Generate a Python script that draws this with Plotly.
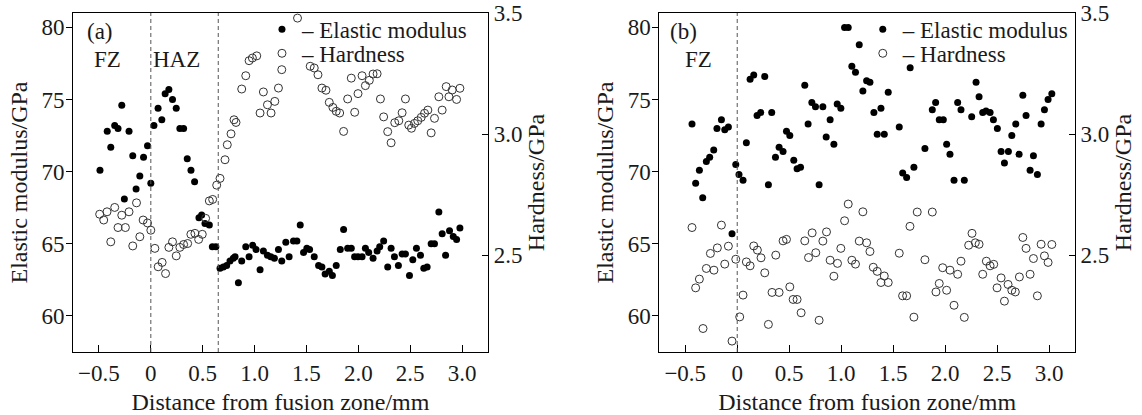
import plotly.graph_objects as go

# (a) elastic modulus, filled dots
a_mod_x = [-0.49, -0.42, -0.386, -0.348, -0.316, -0.28, -0.255, -0.21, -0.174, -0.142,
           -0.106, -0.07, -0.032, 0.0, 0.03, 0.07, 0.106, 0.138, 0.174, 0.209,
           0.245, 0.28, 0.316, 0.351, 0.387, 0.422, 0.464, 0.49, 0.522, 0.564,
           0.593, 0.627, 0.667, 0.699, 0.731, 0.763, 0.795, 0.812, 0.844, 0.876,
           0.915, 0.947, 0.982, 1.014, 1.053, 1.085, 1.124, 1.156, 1.191, 1.23,
           1.262, 1.301, 1.333, 1.375, 1.408, 1.44, 1.472, 1.504, 1.53, 1.575,
           1.617, 1.649, 1.68, 1.72, 1.75, 1.787, 1.826, 1.858, 1.897, 1.932,
           1.964, 1.997, 2.036, 2.068, 2.1, 2.142, 2.181, 2.206, 2.244, 2.283,
           2.316, 2.348, 2.386, 2.422, 2.454, 2.493, 2.525, 2.56, 2.599, 2.631,
           2.663, 2.702, 2.734, 2.776, 2.808, 2.841, 2.879, 2.915, 2.947, 2.979]
a_mod_y = [70.1, 72.8, 71.7, 73.2, 73.0, 74.6, 68.1, 72.8, 71.1, 68.8,
           69.7, 71.0, 71.8, 69.2, 73.2, 74.4, 73.6, 75.4, 75.7, 75.0,
           74.4, 73.0, 73.0, 70.9, 70.1, 69.3, 66.8, 67.0, 66.4, 66.3,
           64.8, 64.8, 63.3, 63.4, 63.5, 63.8, 64.0, 64.1, 62.3, 63.8,
           64.8, 64.1, 64.9, 64.6, 63.2, 64.5, 64.2, 64.1, 64.0, 64.6,
           63.8, 65.1, 64.1, 65.2, 65.2, 66.3, 64.4, 64.7, 64.6, 64.1,
           63.5, 63.4, 62.9, 63.1, 62.8, 63.5, 64.6, 66.0, 64.7, 64.7,
           64.1, 64.1, 64.1, 64.7, 64.4, 64.0, 64.5, 64.8, 65.2, 63.4,
           64.7, 64.1, 63.5, 64.3, 64.3, 62.8, 63.9, 64.7, 64.2, 63.3,
           63.4, 65.0, 65.0, 67.2, 65.7, 64.2, 65.9, 65.5, 65.3, 66.1]

# (a) hardness, open circles
a_hard_x = [-0.493, -0.454, -0.422, -0.386, -0.348, -0.316, -0.28, -0.245, -0.21, -0.174,
            -0.138, -0.106, -0.074, -0.032, 0.0, 0.039, 0.071, 0.109, 0.142, 0.174,
            0.209, 0.245, 0.28, 0.316, 0.355, 0.386, 0.425, 0.461, 0.496, 0.528,
            0.564, 0.596, 0.635, 0.667, 0.715, 0.737, 0.773, 0.802, 0.821, 0.876,
            0.915, 0.947, 0.979, 1.021, 1.053, 1.085, 1.124, 1.159, 1.195, 1.23,
            1.262, 1.414, 1.536, 1.575, 1.611, 1.649, 1.688, 1.72, 1.755, 1.787,
            1.82, 1.858, 1.897, 1.932, 1.965, 1.997, 2.036, 2.068, 2.106, 2.142,
            2.181, 2.213, 2.244, 2.283, 2.316, 2.351, 2.39, 2.422, 2.454, 2.486,
            2.512, 2.541, 2.573, 2.606, 2.638, 2.67, 2.702, 2.734, 2.776, 2.808,
            2.847, 2.873, 2.905, 2.947, 2.979]
a_hard_y = [2.669, 2.645, 2.679, 2.555, 2.697, 2.614, 2.665, 2.614, 2.679, 2.538,
            2.716, 2.576, 2.645, 2.633, 2.603, 2.528, 2.452, 2.47, 2.424, 2.532,
            2.555, 2.497, 2.532, 2.544, 2.548, 2.586, 2.59, 2.565, 2.586, 2.652,
            2.724, 2.73, 2.789, 2.817, 2.894, 2.956, 3.001, 3.059, 3.048, 3.186,
            3.241, 3.303, 3.314, 3.323, 3.087, 3.174, 3.121, 3.087, 3.135, 3.19,
            3.266, 3.479, 3.28, 3.273, 3.245, 3.19, 3.181, 3.131, 3.11, 3.094,
            3.087, 3.011, 3.145, 3.231, 3.09, 3.167, 3.241, 3.2, 3.222, 3.248,
            3.249, 3.145, 3.071, 3.01, 2.964, 3.047, 3.055, 3.088, 3.145, 3.037,
            3.024, 3.044, 3.055, 3.069, 3.086, 3.099, 3.005, 3.065, 3.154, 3.099,
            3.196, 3.154, 3.182, 3.143, 3.189]

# (b) elastic modulus
b_mod_x = [-0.435, -0.4, -0.364, -0.332, -0.297, -0.265, -0.226, -0.195, -0.152, -0.12,
           -0.085, -0.05, -0.014, 0.017, 0.056, 0.088, 0.124, 0.159, 0.191, 0.226,
           0.265, 0.3, 0.332, 0.368, 0.403, 0.441, 0.474, 0.506, 0.544, 0.576,
           0.609, 0.65, 0.682, 0.718, 0.753, 0.788, 0.824, 0.856, 0.894, 0.93,
           0.962, 0.997, 1.033, 1.068, 1.103, 1.138, 1.174, 1.209, 1.245, 1.277,
           1.315, 1.347, 1.383, 1.415, 1.453, 1.559, 1.592, 1.63, 1.664, 1.7,
           1.806, 1.877, 1.909, 1.944, 1.983, 2.015, 2.047, 2.086, 2.121, 2.153,
           2.185, 2.256, 2.298, 2.327, 2.362, 2.394, 2.433, 2.465, 2.503, 2.539,
           2.571, 2.609, 2.642, 2.68, 2.712, 2.748, 2.779, 2.818, 2.85, 2.888,
           2.924, 2.956, 2.991, 3.027]
b_mod_y = [73.3, 69.2, 70.1, 68.2, 70.7, 71.0, 71.5, 73.0, 73.6, 72.9,
           73.1, 65.7, 70.5, 69.8, 69.4, 72.0, 76.4, 76.7, 73.9, 74.1,
           76.6, 69.1, 74.1, 71.0, 71.7, 71.4, 72.8, 72.5, 70.8, 70.2,
           70.3, 76.0, 73.3, 74.8, 74.5, 69.1, 74.5, 72.4, 73.6, 71.9,
           74.7, 74.4, 80.0, 80.0, 77.3, 76.9, 78.8, 75.6, 76.3, 76.2,
           74.1, 72.6, 74.4, 72.6, 75.5, 73.1, 69.9, 69.6, 77.2, 70.3,
           71.6, 74.3, 74.8, 73.6, 73.6, 71.9, 71.2, 69.4, 74.8, 74.3,
           69.4, 73.8, 76.2, 75.2, 74.1, 74.2, 74.1, 73.6, 73.0, 71.4,
           70.6, 71.4, 72.5, 73.3, 71.2, 75.3, 73.9, 70.1, 71.1, 69.8,
           73.3, 74.3, 75.0, 75.4]

# (b) hardness
b_hard_x = [-0.435, -0.4, -0.364, -0.329, -0.297, -0.258, -0.224, -0.191, -0.152, -0.12,
            -0.085, -0.05, -0.014, 0.024, 0.056, 0.088, 0.124, 0.159, 0.194, 0.229,
            0.265, 0.3, 0.335, 0.371, 0.403, 0.441, 0.474, 0.506, 0.538, 0.576,
            0.615, 0.65, 0.686, 0.721, 0.756, 0.788, 0.824, 0.859, 0.894, 0.93,
            0.965, 0.997, 1.033, 1.068, 1.103, 1.138, 1.174, 1.209, 1.245, 1.277,
            1.309, 1.347, 1.383, 1.415, 1.453, 1.559, 1.591, 1.63, 1.662, 1.7,
            1.732, 1.806, 1.877, 1.912, 1.944, 1.977, 2.015, 2.047, 2.086, 2.121,
            2.153, 2.185, 2.227, 2.259, 2.291, 2.327, 2.362, 2.397, 2.433, 2.468,
            2.5, 2.539, 2.571, 2.606, 2.642, 2.676, 2.715, 2.748, 2.779, 2.818,
            2.85, 2.888, 2.924, 2.956, 2.991, 3.027]
b_hard_y = [2.614, 2.365, 2.401, 2.197, 2.445, 2.507, 2.438, 2.53, 2.624, 2.463,
            2.537, 2.145, 2.483, 2.245, 2.335, 2.472, 2.456, 2.538, 2.521, 2.489,
            2.427, 2.214, 2.346, 2.5, 2.346, 2.559, 2.565, 2.369, 2.317, 2.317,
            2.262, 2.559, 2.49, 2.592, 2.51, 2.231, 2.558, 2.596, 2.479, 2.413,
            2.466, 2.528, 2.642, 2.711, 2.479, 2.463, 2.558, 2.679, 2.551, 2.515,
            2.45, 2.433, 2.387, 2.414, 2.387, 2.508, 2.332, 2.332, 2.619, 2.244,
            2.678, 2.481, 2.678, 2.348, 2.383, 2.448, 2.355, 2.438, 2.293, 2.421,
            2.475, 2.243, 2.541, 2.59, 2.551, 2.545, 2.421, 2.475, 2.456, 2.462,
            2.365, 2.406, 2.31, 2.379, 2.355, 2.348, 2.41, 2.573, 2.528, 2.421,
            2.486, 2.332, 2.545, 2.497, 2.47, 2.544]

x_ticks = [-0.5, 0, 0.5, 1.0, 1.5, 2.0, 2.5, 3.0]
x_labels = ["\u22120.5", "0", "0.5", "1.0", "1.5", "2.0", "2.5", "3.0"]
mod_ticks = [60, 65, 70, 75, 80]
hard_ticks = [2.5, 3.0, 3.5]
hard_labels = ["2.5", "3.0", "3.5"]

FONT = "Liberation Serif"
INK = "#1a1a1a"

filled = dict(symbol="circle", size=7, color="black")
hollow = dict(symbol="circle-open", size=8, color="#333", line=dict(width=1))

fig = go.Figure()
fig.add_trace(go.Scatter(x=a_mod_x, y=a_mod_y, mode="markers", name="\u2013 Elastic modulus",
                         marker=filled, xaxis="x", yaxis="y", legend="legend"))
fig.add_trace(go.Scatter(x=a_hard_x, y=a_hard_y, mode="markers", name="\u2013 Hardness",
                         marker=hollow, xaxis="x", yaxis="y2", legend="legend2"))
fig.add_trace(go.Scatter(x=b_mod_x, y=b_mod_y, mode="markers", name="\u2013 Elastic modulus",
                         marker=filled, xaxis="x2", yaxis="y3", legend="legend3"))
fig.add_trace(go.Scatter(x=b_hard_x, y=b_hard_y, mode="markers", name="\u2013 Hardness",
                         marker=hollow, xaxis="x2", yaxis="y4", legend="legend4"))


def xax(domain, anchor):
    return dict(domain=domain, anchor=anchor, range=[-0.75, 3.25],
                tickvals=x_ticks, ticktext=x_labels, ticks="inside", ticklen=7,
                tickcolor="black", showline=True, mirror=True, linecolor="black",
                linewidth=1, showgrid=False, zeroline=False,
                tickfont=dict(size=23), ticklabelstandoff=0,
                title=dict(text="Distance from fusion zone/mm", font=dict(size=24), standoff=8))


def yleft(anchor):
    return dict(anchor=anchor, range=[57.5, 81], tickvals=mod_ticks, ticks="outside",
                ticklen=6, tickcolor="black", showline=True, linecolor="black",
                showgrid=False, zeroline=False, tickfont=dict(size=23), ticklabelstandoff=-3,
                title=dict(text="Elastic modulus/GPa", font=dict(size=24), standoff=7))


def yright(anchor, over):
    return dict(anchor=anchor, overlaying=over, side="right", range=[2.1, 3.5],
                tickvals=hard_ticks, ticktext=hard_labels, ticks="inside", ticklen=6,
                tickcolor="black", showline=True, linecolor="black", showgrid=False,
                zeroline=False, tickfont=dict(size=23),
                title=dict(text="Hardness/GPa", font=dict(size=24), standoff=5))


def leg(x, y):
    return dict(x=x, y=y, xanchor="left", yanchor="middle", bgcolor="rgba(0,0,0,0)",
                borderwidth=0, font=dict(size=23, family=FONT, color=INK))


dash = dict(color="#555", width=1, dash="4px,3px")

fig.update_layout(
    width=1142, height=415,
    margin=dict(l=73, r=67, t=13, b=63, autoexpand=False),
    showlegend=True,
    paper_bgcolor="white", plot_bgcolor="white",
    font=dict(family=FONT, size=23, color=INK),
    xaxis=xax([0, 0.4142], "y"),
    yaxis=yleft("x"),
    yaxis2=yright("x", "y"),
    xaxis2=xax([0.5851, 1], "y3"),
    yaxis3=yleft("x2"),
    yaxis4=yright("x2", "y3"),
    legend=leg(0.1886, 0.952),
    legend2=leg(0.1886, 0.881),
    legend3=leg(0.7882, 0.952),
    legend4=leg(0.7882, 0.881),
    shapes=[
        dict(type="line", xref="x", yref="y domain", x0=0, x1=0, y0=0, y1=1, line=dash),
        dict(type="line", xref="x", yref="y domain", x0=0.65, x1=0.65, y0=0, y1=1, line=dash),
        dict(type="line", xref="x2", yref="y3 domain", x0=0, x1=0, y0=0, y1=1, line=dash),
    ],
    annotations=[
        dict(text="(a)", x=-0.488, y=79.75, xref="x", yref="y", showarrow=False, font=dict(size=23)),
        dict(text="FZ", x=-0.415, y=77.8, xref="x", yref="y", showarrow=False, font=dict(size=23)),
        dict(text="HAZ", x=0.251, y=77.8, xref="x", yref="y", showarrow=False, font=dict(size=23)),
        dict(text="(b)", x=-0.515, y=79.75, xref="x2", yref="y3", showarrow=False, font=dict(size=23)),
        dict(text="FZ", x=-0.371, y=77.8, xref="x2", yref="y3", showarrow=False, font=dict(size=23)),
    ],
)

fig.write_html("out.html", config={"displayModeBar": False},
               post_script="document.body.style.margin = '0';")
